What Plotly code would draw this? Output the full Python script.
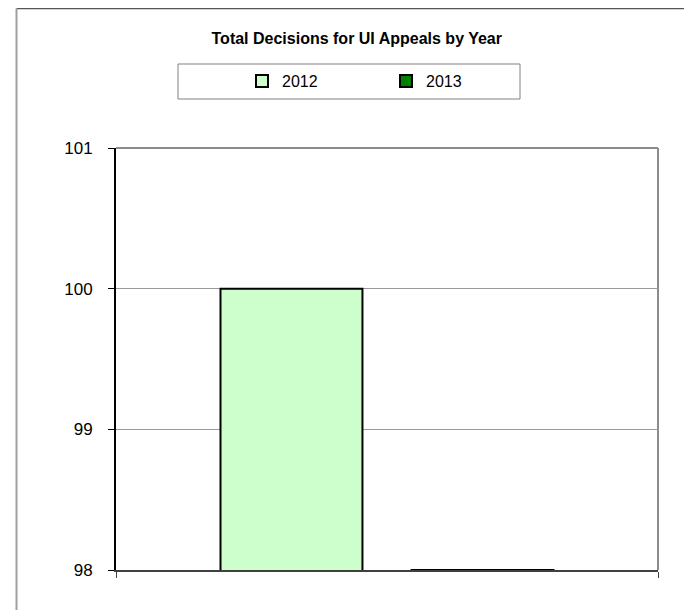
import plotly.graph_objects as go

category = ["Total"]
years = ["2012", "2013"]
values_2012 = [100]
values_2013 = [98]
colors = ["#CCFFCC", "#008000"]
y_ticks = [98, 99, 100, 101]

fig = go.Figure()
fig.add_trace(go.Bar(x=category, y=values_2012, name=years[0],
                     marker=dict(color=colors[0], line=dict(color="black", width=2))))
fig.add_trace(go.Bar(x=category, y=values_2013, name=years[1],
                     marker=dict(color=colors[1], line=dict(color="black", width=2))))

FONT = "Liberation Sans, Arial, sans-serif"

# page body has an 8px margin; layout values below compensate for it
L, T = 108, 140
PW, PH = 542, 422

def px(xs):
    return (xs - 8 - L) / PW

def py(ys):
    return (T + PH - (ys - 8)) / PH

fig.update_layout(
    width=692, height=610,
    margin=dict(l=L, r=692 - L - PW, t=T, b=610 - T - PH),
    paper_bgcolor="white", plot_bgcolor="white",
    barmode="group", bargap=0.295, bargroupgap=0.257,
    font=dict(family=FONT, size=16, color="black"),
    title=dict(text="<b>Total Decisions for UI Appeals by Year</b>",
               x=0.504, xanchor="center", y=1 - 30 / 610, yanchor="middle",
               font=dict(family=FONT, size=16, color="black")),
    showlegend=True,
    legend=dict(orientation="h", x=px(242), xanchor="left", y=py(81), yanchor="middle",
                borderwidth=0, bgcolor="rgba(0,0,0,0)",
                entrywidth=99, entrywidthmode="pixels",
                font=dict(family=FONT, size=16, color="black")),
    xaxis=dict(showticklabels=False, ticks="outside", tickson="boundaries",
               ticklen=6, tickcolor="#404040", showline=True, linecolor="#404040",
               linewidth=2, showgrid=False, zeroline=False),
    yaxis=dict(range=[98, 101], tickvals=y_ticks, ticks="outside", ticklen=6,
               tickcolor="black", showline=True, linecolor="black", linewidth=2,
               showgrid=True, gridcolor="#9a9a9a", gridwidth=1, zeroline=False,
               ticklabelstandoff=12, tickfont=dict(family=FONT, size=17, color="black")),
    shapes=[
        # plot area top/right border
        dict(type="line", xref="paper", yref="paper", x0=0, x1=1, y0=1, y1=1,
             line=dict(color="#8c8c8c", width=2), layer="below"),
        dict(type="line", xref="paper", yref="paper", x0=1, x1=1, y0=0, y1=1,
             line=dict(color="#8c8c8c", width=2), layer="below"),
        # legend box
        dict(type="rect", xref="paper", yref="paper",
             x0=px(178), x1=px(520), y0=py(99), y1=py(64),
             line=dict(color="#808080", width=1), fillcolor="rgba(0,0,0,0)"),
        # outer chart frame (top and left edges)
        dict(type="line", xref="paper", yref="paper",
             x0=px(16.5), x1=px(720), y0=py(8.5), y1=py(8.5),
             line=dict(color="#555555", width=1.5)),
        dict(type="line", xref="paper", yref="paper",
             x0=px(16.5), x1=px(16.5), y0=py(8.5), y1=py(640),
             line=dict(color="#a0a0a0", width=2)),
    ],
)

fig.write_html("out.html")
